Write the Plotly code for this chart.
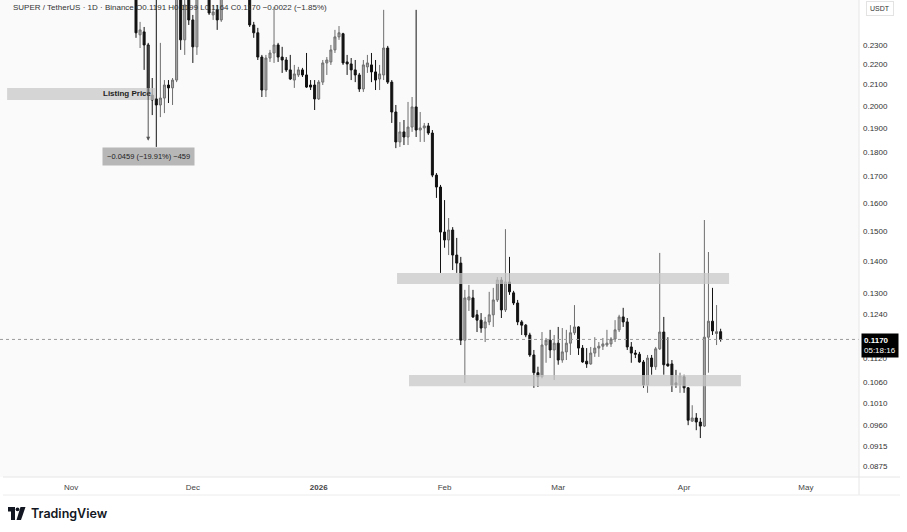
import math
import pandas as pd
import plotly.graph_objects as go

# ---------------- data ----------------
start_date = "2025-11-17"
opens = [0.2670, 0.2354, 0.2370, 0.2300, 0.2050, 0.2032, 0.2004, 0.2036, 0.2098, 0.2084,
         0.2122, 0.2610, 0.2327, 0.2580, 0.2436, 0.2290, 0.2640, 0.2720, 0.2650, 0.2464,
         0.2493, 0.2436, 0.2580, 0.2700, 0.2780, 0.2720, 0.2820, 0.2750, 0.2640, 0.2408,
         0.2365, 0.2237, 0.2074, 0.2232, 0.2258, 0.2300, 0.2237, 0.2222, 0.2172, 0.2122,
         0.2147, 0.2172, 0.2147, 0.2098, 0.2098, 0.2032, 0.2112, 0.2207, 0.2212, 0.2274,
         0.2343, 0.2360, 0.2212, 0.2202, 0.2172, 0.2147, 0.2079, 0.2187, 0.2197, 0.2162,
         0.2127, 0.2147, 0.2284, 0.2112, 0.1972, 0.1841, 0.1884, 0.1862, 0.1905, 0.1995,
         0.1892, 0.1901, 0.1910, 0.1879, 0.1706, 0.1660, 0.1497, 0.1470, 0.1504, 0.1420,
         0.1394, 0.1168, 0.1281, 0.1287, 0.1238, 0.1223, 0.1201, 0.1218, 0.1238, 0.1281,
         0.1341, 0.1252, 0.1335, 0.1302, 0.1272, 0.1218, 0.1209, 0.1182, 0.1129, 0.1084,
         0.1074, 0.1155, 0.1168, 0.1142, 0.1160, 0.1116, 0.1137, 0.1160, 0.1188, 0.1204,
         0.1147, 0.1113, 0.1106, 0.1134, 0.1147, 0.1152, 0.1155, 0.1158, 0.1171, 0.1196,
         0.1232, 0.1218, 0.1150, 0.1134, 0.1131, 0.1111, 0.1054, 0.1121, 0.1099, 0.1145,
         0.1190, 0.1106, 0.1106, 0.1059, 0.1054, 0.1074, 0.1047, 0.0970, 0.0977, 0.0968,
         0.0959, 0.1176, 0.1220, 0.1186, 0.1191]
highs = [0.2796, 0.2425, 0.2397, 0.2311, 0.2132, 0.2732, 0.2311, 0.2122, 0.2122, 0.2132,
         0.2670, 0.2640, 0.2598, 0.2640, 0.2464, 0.2700, 0.2800, 0.2780, 0.2700, 0.2521,
         0.2521, 0.2640, 0.2760, 0.2850, 0.2900, 0.2880, 0.2860, 0.2790, 0.2680, 0.2425,
         0.2392, 0.2248, 0.2248, 0.2274, 0.2510, 0.2311, 0.2290, 0.2237, 0.2248, 0.2197,
         0.2187, 0.2182, 0.2258, 0.2122, 0.2122, 0.2122, 0.2222, 0.2237, 0.2300, 0.2381,
         0.2402, 0.2365, 0.2248, 0.2232, 0.2222, 0.2157, 0.2222, 0.2248, 0.2258, 0.2222,
         0.2197, 0.2493, 0.2295, 0.2122, 0.2004, 0.1927, 0.1936, 0.2018, 0.2041, 0.2493,
         0.1972, 0.1923, 0.1923, 0.1892, 0.1714, 0.1668, 0.1611, 0.1546, 0.1514, 0.1477,
         0.1414, 0.1311, 0.1326, 0.1311, 0.1252, 0.1243, 0.1232, 0.1305, 0.1317, 0.1350,
         0.1350, 0.1507, 0.1414, 0.1308, 0.1281, 0.1223, 0.1212, 0.1188, 0.1142, 0.1099,
         0.1190, 0.1174, 0.1196, 0.1182, 0.1204, 0.1201, 0.1196, 0.1209, 0.1266, 0.1206,
         0.1155, 0.1147, 0.1150, 0.1176, 0.1163, 0.1174, 0.1196, 0.1176, 0.1223, 0.1238,
         0.1258, 0.1229, 0.1163, 0.1142, 0.1137, 0.1116, 0.1129, 0.1129, 0.1150, 0.1427,
         0.1232, 0.1176, 0.1116, 0.1091, 0.1084, 0.1079, 0.1049, 0.1006, 0.0988, 0.0977,
         0.1539, 0.1430, 0.1317, 0.1266, 0.1199]
lows = [0.2338, 0.2284, 0.2172, 0.2027, 0.1958, 0.1820, 0.1949, 0.1967, 0.2013, 0.2004,
        0.2112, 0.2274, 0.2248, 0.2408, 0.2207, 0.2248, 0.2580, 0.2590, 0.2464, 0.2436,
        0.2381, 0.2425, 0.2570, 0.2650, 0.2680, 0.2690, 0.2700, 0.2600, 0.2397, 0.2338,
        0.2222, 0.2041, 0.2041, 0.2212, 0.2207, 0.2212, 0.2157, 0.2162, 0.2122, 0.2084,
        0.2137, 0.2137, 0.2084, 0.2074, 0.1981, 0.2027, 0.2098, 0.2147, 0.2197, 0.2258,
        0.2327, 0.2197, 0.2147, 0.2122, 0.2112, 0.2065, 0.2065, 0.2157, 0.2112, 0.2074,
        0.2074, 0.2122, 0.2103, 0.1923, 0.1815, 0.1820, 0.1828, 0.1828, 0.1884, 0.1862,
        0.1841, 0.1841, 0.1871, 0.1698, 0.1619, 0.1363, 0.1444, 0.1420, 0.1372, 0.1363,
        0.1155, 0.1059, 0.1249, 0.1229, 0.1190, 0.1188, 0.1163, 0.1209, 0.1204, 0.1275,
        0.1229, 0.1246, 0.1296, 0.1266, 0.1209, 0.1182, 0.1176, 0.1124, 0.1047, 0.1049,
        0.1070, 0.1109, 0.1121, 0.1066, 0.1104, 0.1109, 0.1116, 0.1129, 0.1182, 0.1129,
        0.1109, 0.1096, 0.1104, 0.1124, 0.1124, 0.1142, 0.1150, 0.1150, 0.1163, 0.1190,
        0.1204, 0.1142, 0.1109, 0.1121, 0.1109, 0.1047, 0.1035, 0.1079, 0.1091, 0.1142,
        0.1079, 0.1099, 0.1037, 0.1047, 0.1035, 0.1035, 0.0961, 0.0968, 0.0950, 0.0933,
        0.0957, 0.1084, 0.1182, 0.1155, 0.1164]
closes = [0.2365, 0.2381, 0.2300, 0.2050, 0.2027, 0.2004, 0.2036, 0.2098, 0.2084, 0.2122,
          0.2610, 0.2327, 0.2521, 0.2436, 0.2290, 0.2640, 0.2720, 0.2650, 0.2475, 0.2481,
          0.2436, 0.2580, 0.2700, 0.2780, 0.2720, 0.2820, 0.2750, 0.2640, 0.2408, 0.2365,
          0.2237, 0.2074, 0.2232, 0.2258, 0.2300, 0.2237, 0.2222, 0.2172, 0.2127, 0.2152,
          0.2172, 0.2147, 0.2088, 0.2088, 0.2032, 0.2112, 0.2207, 0.2222, 0.2274, 0.2343,
          0.2365, 0.2207, 0.2202, 0.2172, 0.2147, 0.2079, 0.2197, 0.2207, 0.2162, 0.2122,
          0.2152, 0.2284, 0.2112, 0.1972, 0.1841, 0.1884, 0.1862, 0.1905, 0.1995, 0.1892,
          0.1901, 0.1910, 0.1879, 0.1706, 0.1660, 0.1497, 0.1470, 0.1504, 0.1420, 0.1394,
          0.1168, 0.1287, 0.1290, 0.1232, 0.1223, 0.1201, 0.1218, 0.1238, 0.1281, 0.1341,
          0.1252, 0.1335, 0.1305, 0.1272, 0.1218, 0.1209, 0.1182, 0.1129, 0.1084, 0.1074,
          0.1155, 0.1168, 0.1142, 0.1160, 0.1116, 0.1137, 0.1160, 0.1188, 0.1204, 0.1147,
          0.1111, 0.1106, 0.1134, 0.1147, 0.1152, 0.1158, 0.1160, 0.1171, 0.1196, 0.1232,
          0.1218, 0.1150, 0.1134, 0.1131, 0.1111, 0.1054, 0.1121, 0.1099, 0.1145, 0.1190,
          0.1104, 0.1101, 0.1054, 0.1054, 0.1076, 0.1047, 0.0972, 0.0977, 0.0968, 0.0959,
          0.1176, 0.1220, 0.1193, 0.1191, 0.1170]

price_ticks = [0.2300, 0.2200, 0.2100, 0.2000, 0.1900, 0.1800, 0.1700, 0.1600, 0.1500,
               0.1400, 0.1300, 0.1240, 0.1120, 0.1060, 0.1010, 0.0960, 0.0915, 0.0875]
month_ticks = ["2025-11-01", "2025-12-01", "2026-01-01", "2026-02-01",
               "2026-03-01", "2026-04-01", "2026-05-01"]
month_labels = ["Nov", "Dec", "<b>2026</b>", "Feb", "Mar", "Apr", "May"]

# drawn zones: [start, end, low, high]
listing_zone = ["2025-10-16 06:00", "2025-11-21 17:00", 0.2027, 0.2084]
resistance_zone = ["2026-01-20 07:00", "2026-04-12 02:00", 0.1329, 0.1363]
support_zone = ["2026-01-23 06:00", "2026-04-15 00:00", 0.1051, 0.1078]
# price-range measurement: date, from, to
measure = ["2025-11-20", 0.2305, 0.1846]
measure_text = "\u22120.0459 (\u221219.91%) \u2212459"

x_range = ["2025-10-14 12:00", "2026-05-14 02:00"]
y_range = [0.08532, 0.2550]

dates = pd.date_range(start_date, periods=len(opens), freq="D")
last = closes[-1]

FONT = "Liberation Sans"
W, H = 907, 532
ML, MR, MT, MB = 0, 48, 0, 55
PW, PH = W - ML - MR, H - MT - MB


def px(x):
    return (x - ML) / PW


def py(y):
    return (PH + MT - y) / PH


fig = go.Figure()

# zones drawn as filled traces (below candles)
for z in (listing_zone, resistance_zone, support_zone):
    fig.add_trace(go.Scatter(
        x=[z[0], z[1], z[1], z[0], z[0]], y=[z[2], z[2], z[3], z[3], z[2]],
        fill="toself", fillcolor="rgba(200,200,200,0.75)", line=dict(width=0),
        mode="lines", hoverinfo="skip", showlegend=False))

# dotted last-price line
fig.add_trace(go.Scatter(
    x=x_range, y=[last, last], mode="lines",
    line=dict(color="#9a9a9a", width=1, dash="dot"),
    hoverinfo="skip", showlegend=False))

fig.add_trace(go.Candlestick(
    x=dates, open=opens, high=highs, low=lows, close=closes,
    increasing=dict(line=dict(color="#6e6e6e", width=1), fillcolor="#a9a9a9"),
    decreasing=dict(line=dict(color="#121212", width=1), fillcolor="#121212"),
    whiskerwidth=0, hoverinfo="skip", showlegend=False))

annotations = []
# Listing price label
annotations.append(dict(
    x=listing_zone[1], y=math.log10((listing_zone[2] * listing_zone[3]) ** 0.5),
    xref="x", yref="y", text="<b>Listing Price</b>", showarrow=False,
    xanchor="right", yanchor="middle", xshift=-1,
    font=dict(family=FONT, size=8, color="#222")))
# measurement arrow
annotations.append(dict(
    x=measure[0], y=math.log10(measure[2]), ax=measure[0], ay=math.log10(measure[1]),
    xref="x", yref="y", axref="x", ayref="y", text="", showarrow=True,
    arrowhead=2, arrowsize=0.8, arrowwidth=1, arrowcolor="#555"))
annotations.append(dict(
    x=measure[0], y=math.log10(measure[2]), xref="x", yref="y",
    text=measure_text, showarrow=False, yanchor="top", yshift=-6,
    bgcolor="rgba(160,160,160,0.75)", borderpad=4,
    font=dict(family=FONT, size=7.5, color="#222")))
# header
annotations.append(dict(
    x=px(11), y=py(8), xref="paper", yref="paper", xanchor="left", yanchor="middle",
    showarrow=False,
    text="SUPER / TetherUS · 1D · Binance O0.1191 H0.1199 "
         "L0.1164 C0.1170 \u22120.0022 (\u22121.85%)",
    font=dict(family=FONT, size=8, color="#333")))
# last price badge
annotations.append(dict(
    x=px(861), y=math.log10(last), xref="paper", yref="y", xanchor="left",
    yanchor="top", yshift=6, showarrow=False,
    text="<b>0.1170</b><br>05:18:16", align="left", bgcolor="#000", borderpad=2,
    font=dict(family=FONT, size=8, color="#fff")))
# USDT box
annotations.append(dict(
    x=px(880), y=py(9), xref="paper", yref="paper", xanchor="center", yanchor="middle",
    showarrow=False, text="USDT", bgcolor="#fff", bordercolor="#e3e3e3", borderwidth=1,
    borderpad=3, font=dict(family=FONT, size=7, color="#333")))
# TradingView wordmark
annotations.append(dict(
    x=px(29), y=py(513), xref="paper", yref="paper", xanchor="left", yanchor="middle",
    showarrow=False, text="TradingView",
    font=dict(family="Inter", size=12.5, color="#131722", weight=600)))

shapes = [
    # price-scale separator and time-axis frame
    dict(type="line", xref="paper", yref="paper", x0=px(859), x1=px(859), y0=py(495), y1=1,
         line=dict(color="#e6e6e6", width=1)),
    dict(type="line", xref="paper", yref="paper", x0=px(3), x1=px(900), y0=py(477), y1=py(477),
         line=dict(color="#e6e6e6", width=1)),
    dict(type="line", xref="paper", yref="paper", x0=px(3), x1=px(900), y0=py(495), y1=py(495),
         line=dict(color="#ececec", width=1)),
    # TV logo
    dict(type="rect", xref="paper", yref="paper", x0=px(8), x1=px(15), y0=py(511.5), y1=py(507),
         fillcolor="#131722", line=dict(width=0)),
    dict(type="rect", xref="paper", yref="paper", x0=px(11), x1=px(15), y0=py(520), y1=py(507),
         fillcolor="#131722", line=dict(width=0)),
    dict(type="circle", xref="paper", yref="paper", x0=px(15.6), x1=px(19.4), y0=py(511.2),
         y1=py(507.4), fillcolor="#131722", line=dict(width=0)),
    dict(type="path", xref="paper", yref="paper",
         path=f"M {px(20.5)},{py(507)} L {px(25.5)},{py(507)} L {px(21)},{py(520)} "
              f"L {px(16.5)},{py(520)} Z",
         fillcolor="#131722", line=dict(width=0)),
]

fig.update_layout(
    width=W, height=H, margin=dict(l=ML, r=MR, t=MT, b=MB),
    paper_bgcolor="#ffffff", plot_bgcolor="#fafafa",
    showlegend=False, annotations=annotations, shapes=shapes,
    font=dict(family=FONT, color="#333"),
    xaxis=dict(type="date", range=x_range, rangeslider=dict(visible=False),
               showgrid=False, zeroline=False, showline=False,
               tickmode="array", tickvals=month_ticks, ticktext=month_labels,
               ticks="", ticklabelstandoff=4,
               tickfont=dict(family=FONT, size=8, color="#444")),
    yaxis=dict(type="log", range=[math.log10(y_range[0]), math.log10(y_range[1])],
               side="right", showgrid=False, zeroline=False, showline=False,
               tickmode="array", tickvals=price_ticks,
               ticktext=[f"{v:.4f}" for v in price_ticks], ticks="",
               ticklabelstandoff=3,
               tickfont=dict(family=FONT, size=8, color="#333")),
)

fig.write_html("out.html", config={"displayModeBar": False},
               post_script="document.body.style.margin='0';")
